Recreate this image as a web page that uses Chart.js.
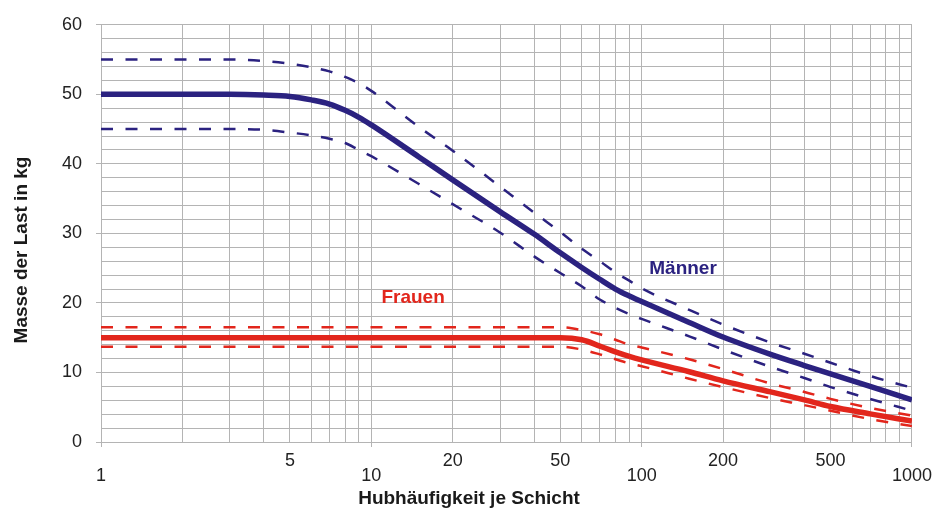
<!DOCTYPE html>
<html>
<head>
<meta charset="utf-8">
<title>Hubhäufigkeit je Schicht</title>
<script src="https://cdn.jsdelivr.net/npm/chart.js@4"></script>
<style>
    body { margin: 0; background: #fff; }
    #wrap { width: 938px; height: 511px; position: relative; }
</style>
</head>
<body>
<div id="wrap"><canvas id="myChart"></canvas></div>
<script>
// Hubhäufigkeit je Schicht (x, log)
const hubFreq = [1, 2, 3, 4, 5, 6, 7, 8, 9, 10, 15, 20, 30, 40, 50, 60, 70, 80, 90, 100, 150, 200, 300, 400, 500, 700, 1000];

// Masse der Last in kg
const maennerMittel = [50, 50, 50, 49.9, 49.7, 49.2, 48.6, 47.7, 46.7, 45.6, 41.0, 37.7, 33.1, 29.9, 27.2, 25.1, 23.4, 22.0, 21.0, 20.2, 17.2, 15.1, 12.6, 11.0, 9.8, 8.0, 6.05];
const maennerOben = [55, 55, 55, 54.8, 54.4, 53.9, 53.3, 52.5, 51.6, 50.5, 45.3, 41.9, 36.7, 33.0, 30.2, 27.8, 26.0, 24.4, 23.2, 22.1, 19.0, 16.9, 14.3, 12.7, 11.4, 9.5, 7.8];
const maennerUnten = [45, 45, 45, 44.9, 44.5, 44.1, 43.6, 43.0, 42.0, 41.1, 37.1, 34.2, 30.1, 26.7, 24.3, 22.4, 20.5, 19.3, 18.4, 17.7, 15.2, 13.3, 10.8, 9.2, 7.9, 6.2, 4.5];

const frauenMittel = [15, 15, 15, 15, 15, 15, 15, 15, 15, 15, 15, 15, 15, 15, 15, 14.7, 13.8, 12.95, 12.3, 11.8, 10.1, 8.8, 7.2, 6.05, 5.1, 4.05, 3.0];
const frauenOben = [16.5, 16.5, 16.5, 16.5, 16.5, 16.5, 16.5, 16.5, 16.5, 16.5, 16.5, 16.5, 16.5, 16.5, 16.5, 16.1, 15.5, 14.7, 14.0, 13.6, 11.9, 10.5, 8.4, 7.2, 6.2, 4.9, 3.8];
const frauenUnten = [13.7, 13.7, 13.7, 13.7, 13.7, 13.7, 13.7, 13.7, 13.7, 13.7, 13.7, 13.7, 13.7, 13.7, 13.7, 13.3, 12.6, 11.9, 11.3, 10.9, 9.1, 7.9, 6.3, 5.3, 4.5, 3.3, 2.3];

// tick labels: upper row / lower row
const xLabelsHigh = [5, 20, 50, 200, 500];
const xLabelsLow = [1, 10, 100, 1000];
const yLabels = [0, 10, 20, 30, 40, 50, 60];

const labelMaenner = { text: 'Männer', x: 106.7, y: 24.1 };
const labelFrauen = { text: 'Frauen', x: 10.9, y: 20.0 };

const BLUE = '#2b2280';
const RED = '#e2261c';
const GRID = '#b4b4b4';
const FONT = "'Liberation Sans', Arial, sans-serif";

function points(ys) {
    return hubFreq.map(function (x, i) { return { x: x, y: ys[i] }; });
}

function line(label, ys, color, dashed) {
    return {
        label: label,
        data: points(ys),
        borderColor: color,
        borderWidth: dashed ? 2.5 : 5.5,
        borderDash: dashed ? [12, 12.5] : [],
        pointRadius: 0,
        fill: false,
        cubicInterpolationMode: 'monotone',
        borderCapStyle: 'butt'
    };
}

// axis titles and curve names
const textPlugin = {
    id: 'texts',
    afterDraw: function (chart) {
        const ctx = chart.ctx;
        const xs = chart.scales.x;
        const ys = chart.scales.y;
        ctx.save();
        ctx.fillStyle = '#1a1a1a';
        ctx.font = 'bold 19px ' + FONT;
        ctx.textAlign = 'center';
        ctx.textBaseline = 'alphabetic';
        ctx.fillText('Hubhäufigkeit je Schicht', 469, 504);

        ctx.translate(27, 250);
        ctx.rotate(-Math.PI / 2);
        ctx.fillText('Masse der Last in kg', 0, 0);
        ctx.restore();

        ctx.save();
        ctx.font = 'bold 19px ' + FONT;
        ctx.textAlign = 'left';
        ctx.textBaseline = 'alphabetic';
        ctx.fillStyle = BLUE;
        ctx.fillText(labelMaenner.text, xs.getPixelForValue(labelMaenner.x), ys.getPixelForValue(labelMaenner.y));
        ctx.fillStyle = RED;
        ctx.fillText(labelFrauen.text, xs.getPixelForValue(labelFrauen.x), ys.getPixelForValue(labelFrauen.y));
        ctx.restore();
    }
};

const ctx = document.getElementById('myChart');
new Chart(ctx, {
    type: 'line',
    data: {
        datasets: [
            line('Frauen oben', frauenOben, RED, true),
            line('Frauen unten', frauenUnten, RED, true),
            line('Frauen', frauenMittel, RED, false),
            line('Männer oben', maennerOben, BLUE, true),
            line('Männer unten', maennerUnten, BLUE, true),
            line('Männer', maennerMittel, BLUE, false)
        ]
    },
    options: {
        responsive: true,
        maintainAspectRatio: false,
        animation: false,
        layout: { padding: { top: 22, right: 25, bottom: 0, left: 0 } },
        plugins: {
            legend: { display: false },
            tooltip: { enabled: false }
        },
        scales: {
            x: {
                type: 'logarithmic',
                min: 1,
                max: 1000,
                afterBuildTicks: function (scale) {
                    // grid at 1..9 of every decade
                    let ticks = [];
                    for (let d = 1; d < 1000; d *= 10) {
                        for (let k = 1; k < 10; k++) ticks.push({ value: k * d });
                    }
                    ticks.push({ value: 1000 });
                    scale.ticks = ticks;
                },
                afterFit: function (scale) { scale.height = 69; },
                grid: {
                    color: GRID,
                    lineWidth: 1,
                    tickLength: 5,
                    tickColor: function (c) {
                        return c.tick && xLabelsLow.indexOf(c.tick.value) >= 0 ? GRID : 'rgba(0,0,0,0)';
                    }
                },
                border: { color: GRID },
                ticks: {
                    autoSkip: false,
                    maxRotation: 0,
                    padding: 6,
                    color: '#222',
                    font: { family: FONT, size: 18, lineHeight: 0.85 },
                    callback: function (value) {
                        if (xLabelsHigh.indexOf(value) >= 0) return [String(value)];
                        if (xLabelsLow.indexOf(value) >= 0) return ['', String(value)];
                        return '';
                    }
                }
            },
            y: {
                min: 0,
                max: 60,
                afterFit: function (scale) { scale.width = 101; },
                grid: {
                    color: GRID,
                    lineWidth: 1,
                    tickLength: 5,
                    tickColor: function (c) {
                        return c.tick && yLabels.indexOf(c.tick.value) >= 0 ? GRID : 'rgba(0,0,0,0)';
                    }
                },
                border: { color: GRID },
                ticks: {
                    stepSize: 2,
                    autoSkip: false,
                    padding: 14,
                    color: '#222',
                    font: { family: FONT, size: 18 },
                    callback: function (value) {
                        return yLabels.indexOf(value) >= 0 ? String(value) : '';
                    }
                }
            }
        }
    },
    plugins: [textPlugin]
});
</script>
</body>
</html>
